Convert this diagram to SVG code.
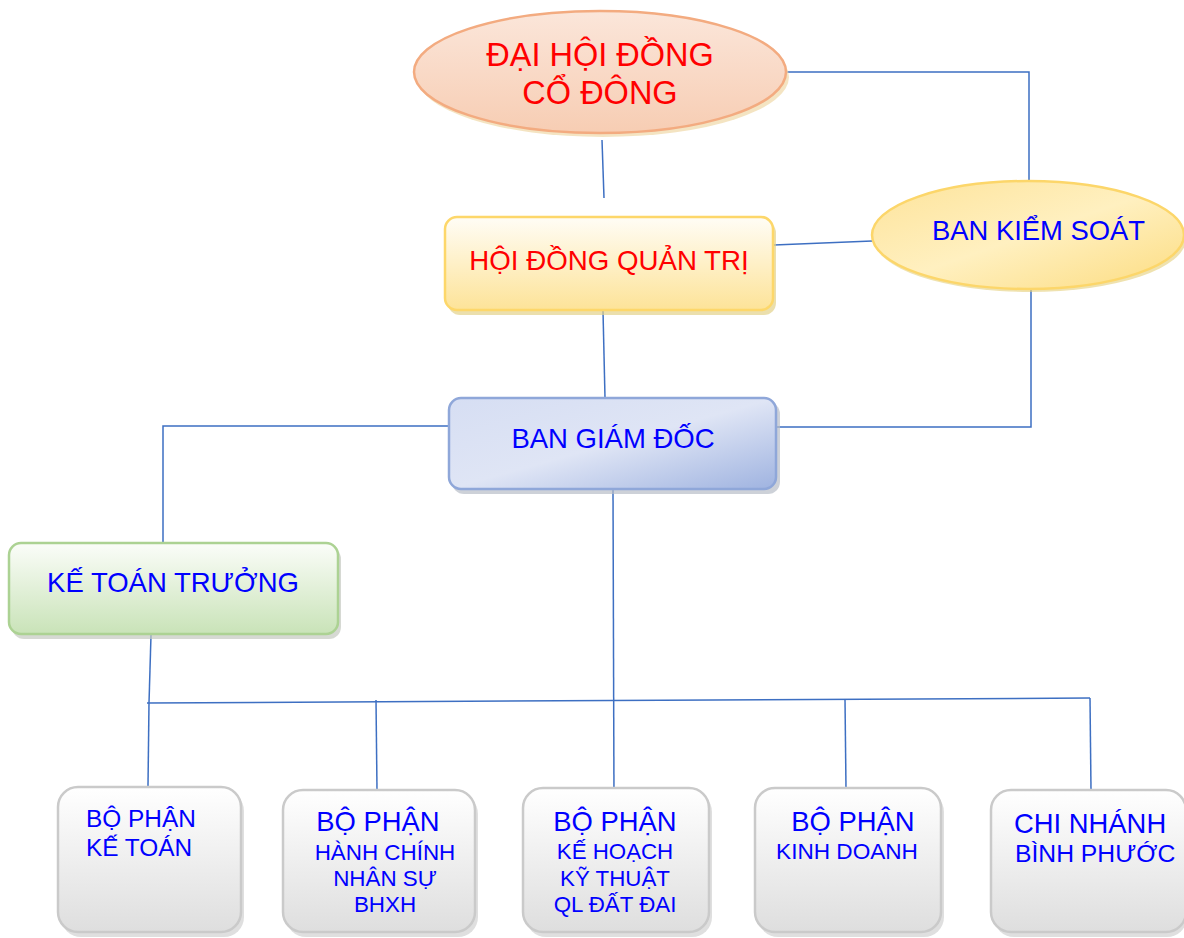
<svg xmlns="http://www.w3.org/2000/svg" width="1184" height="938" viewBox="0 0 1184 938">
<defs>
<linearGradient id="gPeach" x1="0" y1="0" x2="0" y2="1"><stop offset="0" stop-color="#fbe6da"/><stop offset="1" stop-color="#f7cdb3"/></linearGradient>
<linearGradient id="gYel" x1="0" y1="0" x2="0" y2="1"><stop offset="0" stop-color="#fffdf6"/><stop offset="1" stop-color="#fde398"/></linearGradient>
<linearGradient id="gYelE" x1="0" y1="0" x2="1" y2="1"><stop offset="0" stop-color="#fde39a"/><stop offset="0.5" stop-color="#fff0c0"/><stop offset="1" stop-color="#fcdc80"/></linearGradient>
<linearGradient id="gBlue" x1="0" y1="0" x2="1" y2="1"><stop offset="0" stop-color="#d6def3"/><stop offset="0.5" stop-color="#dfe5f5"/><stop offset="1" stop-color="#9fb3e0"/></linearGradient>
<linearGradient id="gGreen" x1="0" y1="0" x2="0" y2="1"><stop offset="0" stop-color="#fbfdf9"/><stop offset="1" stop-color="#c9e3b8"/></linearGradient>
<linearGradient id="gGray" x1="0" y1="0" x2="0" y2="1"><stop offset="0" stop-color="#ffffff"/><stop offset="1" stop-color="#dedede"/></linearGradient>
</defs>
<style>
text{font-family:"Liberation Sans",Arial,sans-serif}
.red{fill:#ff0000}
.blue{fill:#0000ff}
.conn{fill:none;stroke:#3d6fc2;stroke-width:1.5}
.shadow{fill:#c9c9c9;opacity:0.6}
.gray{fill:url(#gGray);stroke:#cacaca;stroke-width:2.5}
</style>
<rect width="1184" height="938" fill="#ffffff"/>
<g id="connectors">
<path class="conn" d="M602,140 L604,198"/>
<path class="conn" d="M787,72 L1029,72 L1029,180"/>
<path class="conn" d="M774,245 L872,241"/>
<path class="conn" d="M1031,290 L1031,427 L777,427"/>
<path class="conn" d="M603,311 L605,398"/>
<path class="conn" d="M449,426 L163,426 L163,543"/>
<path class="conn" d="M151,635 L149,703"/>
<path class="conn" d="M147,703 L1090,698"/>
<path class="conn" d="M149,703 L148,786"/>
<path class="conn" d="M376,700 L377,790"/>
<path class="conn" d="M613,490 L614,803"/>
<path class="conn" d="M845,699 L846,789"/>
<path class="conn" d="M1090,698 L1091,790"/>
</g>
<g id="dhdcd">
<ellipse cx="603" cy="77" rx="186" ry="60" fill="#efd9a8" opacity="0.7"/>
<ellipse cx="600" cy="72" rx="186" ry="61" fill="url(#gPeach)" stroke="#f3ab80" stroke-width="2.5"/>
<text class="red" x="600" y="66" font-size="32.5" text-anchor="middle">ĐẠI HỘI ĐỒNG</text>
<text class="red" x="600" y="104" font-size="32.5" text-anchor="middle">CỔ ĐÔNG</text>
</g>
<g id="hdqt">
<rect x="448" y="221" width="328" height="94" rx="12" fill="#e2d28a" opacity="0.7"/>
<rect x="445" y="217" width="328" height="93" rx="12" fill="url(#gYel)" stroke="#fdd76a" stroke-width="2.5"/>
<text class="red" x="609" y="270" font-size="27.7" text-anchor="middle">HỘI ĐỒNG QUẢN TRỊ</text>
</g>
<g id="bks">
<ellipse cx="1030" cy="239" rx="156" ry="53" fill="#e5cf7a" opacity="0.6"/>
<ellipse cx="1028" cy="235" rx="156" ry="54" fill="url(#gYelE)" stroke="#fcd66a" stroke-width="2.5"/>
<text class="blue" x="932" y="240" font-size="27.4">BAN KIỂM SOÁT</text>
</g>
<g id="bgd">
<rect x="452" y="402" width="328" height="92" rx="12" fill="#b8bdc8" opacity="0.7"/>
<rect x="449" y="398" width="327" height="91" rx="12" fill="url(#gBlue)" stroke="#8fa7d9" stroke-width="2.5"/>
<text class="blue" x="613" y="448" font-size="27.5" text-anchor="middle">BAN GIÁM ĐỐC</text>
</g>
<g id="ktt">
<rect x="12" y="547" width="329" height="92" rx="12" fill="#c5c9c0" opacity="0.7"/>
<rect x="9" y="543" width="329" height="91" rx="12" fill="url(#gGreen)" stroke="#acd293" stroke-width="2.5"/>
<text class="blue" x="173" y="592" font-size="27.5" text-anchor="middle">KẾ TOÁN TRƯỞNG</text>
</g>
<g id="bp-ketoan">
<rect x="61" y="791" width="183" height="146" rx="20" class="shadow"/>
<rect x="58" y="787" width="183" height="145" rx="20" class="gray"/>
<text class="blue" x="86" y="827" font-size="24.4">BỘ PHẬN</text>
<text class="blue" x="86" y="856" font-size="24.4">KẾ TOÁN</text>
</g>
<g id="bp-hcns">
<rect x="286" y="794" width="192" height="143" rx="20" class="shadow"/>
<rect x="283" y="790" width="192" height="142" rx="20" class="gray"/>
<text class="blue" x="378" y="831" font-size="27.4" text-anchor="middle">BỘ PHẬN</text>
<text class="blue" x="385" y="860" font-size="22.4" text-anchor="middle">HÀNH CHÍNH</text>
<text class="blue" x="385" y="886" font-size="22.4" text-anchor="middle">NHÂN SỰ</text>
<text class="blue" x="385" y="912" font-size="22.4" text-anchor="middle">BHXH</text>
</g>
<g id="bp-khkt">
<rect x="526" y="792" width="186" height="145" rx="20" class="shadow"/>
<rect x="523" y="788" width="186" height="144" rx="20" class="gray"/>
<text class="blue" x="615" y="831" font-size="27.4" text-anchor="middle">BỘ PHẬN</text>
<text class="blue" x="615" y="859" font-size="22.3" text-anchor="middle">KẾ HOẠCH</text>
<text class="blue" x="615" y="886" font-size="22.3" text-anchor="middle">KỸ THUẬT</text>
<text class="blue" x="615" y="912" font-size="22.3" text-anchor="middle">QL ĐẤT ĐAI</text>
</g>
<g id="bp-kd">
<rect x="758" y="792" width="186" height="145" rx="20" class="shadow"/>
<rect x="755" y="788" width="186" height="144" rx="20" class="gray"/>
<text class="blue" x="853" y="831" font-size="27.4" text-anchor="middle">BỘ PHẬN</text>
<text class="blue" x="847" y="859" font-size="22.6" text-anchor="middle">KINH DOANH</text>
</g>
<g id="cn-bp">
<rect x="994" y="794" width="193" height="143" rx="20" class="shadow"/>
<rect x="991" y="790" width="195" height="142" rx="20" class="gray"/>
<text class="blue" x="1014" y="833" font-size="27.4">CHI NHÁNH</text>
<text class="blue" x="1015" y="862" font-size="24.7">BÌNH PHƯỚC</text>
</g>
</svg>
